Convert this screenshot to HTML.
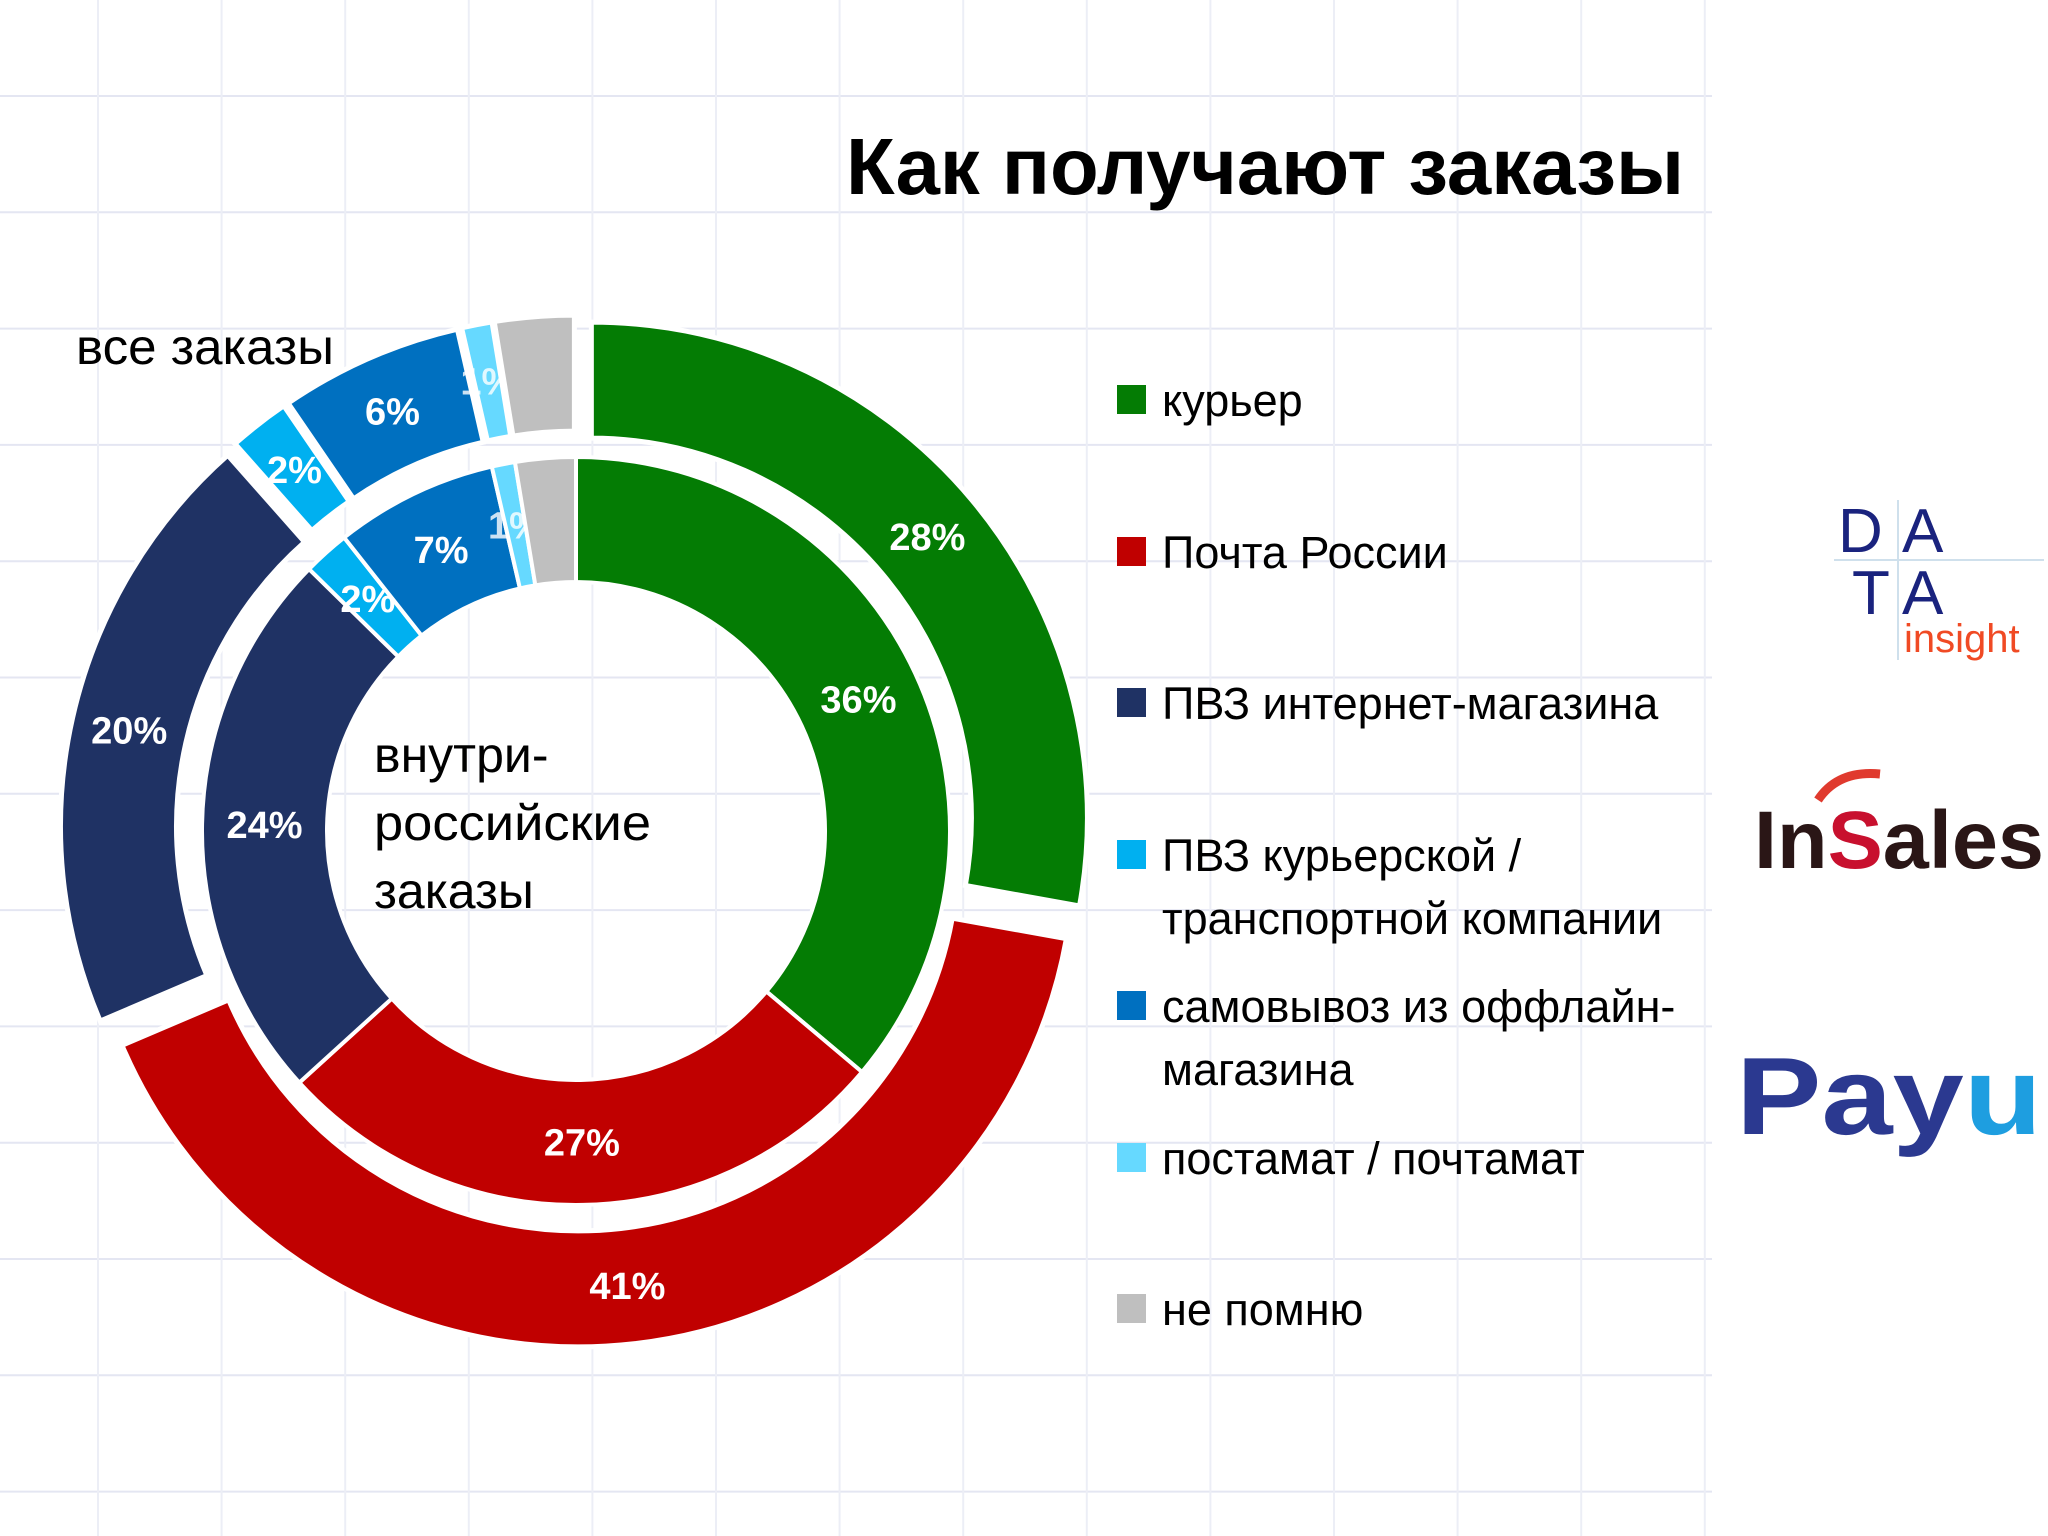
<!DOCTYPE html>
<html><head><meta charset="utf-8"><style>
html,body{margin:0;padding:0;background:#fff;}
svg{display:block;font-family:"Liberation Sans","DejaVu Sans",sans-serif;}
</style></head><body>
<svg id="chart" width="2048" height="1536" viewBox="0 0 2048 1536">
<g id="grid"></g>
<text x="1684" y="194" text-anchor="end" font-size="80" font-weight="bold" textLength="838" lengthAdjust="spacingAndGlyphs">Как получают заказы</text>
<g id="donut"></g>
<text x="76" y="364" font-size="50" textLength="258" lengthAdjust="spacingAndGlyphs">все заказы</text>
<g font-size="50">
<text x="374" y="772">внутри-</text><text x="374" y="840" textLength="277" lengthAdjust="spacingAndGlyphs">российские</text><text x="374" y="908">заказы</text>
</g>
<g id="legend"></g>
<g>
<line x1="1834" y1="560" x2="2044" y2="560" stroke="#cfe0ec" stroke-width="2"/>
<line x1="1898" y1="500" x2="1898" y2="660" stroke="#cfe0ec" stroke-width="2"/>
<text x="1838" y="552" font-size="62" fill="#1a237e">D</text>
<text x="1902" y="552" font-size="62" fill="#1a237e">A</text>
<text x="1852" y="614" font-size="62" fill="#1a237e">T</text>
<text x="1902" y="614" font-size="62" fill="#1a237e">A</text>
<text x="1904" y="652" font-size="40" fill="#f04a24">insight</text>
</g>
<g>
<text x="1754" y="868" font-size="82" font-weight="bold" fill="#2a1616" textLength="290" lengthAdjust="spacingAndGlyphs">In<tspan fill="#c8102e">S</tspan>ales</text>
<path d="M1818 800 q20 -30 62 -26" stroke="#e03a2e" stroke-width="9" fill="none"/>
</g>
<g>
<text x="1736" y="1134" font-size="110" font-weight="bold" fill="#2b3990" textLength="306" lengthAdjust="spacingAndGlyphs">Pay<tspan fill="#1e9ee0">u</tspan></text>
</g>
</svg>
<script>
const categories = ["курьер","Почта России","ПВЗ интернет-магазина","ПВЗ курьерской / транспортной компании","самовывоз из оффлайн-магазина","постамат / почтамат","не помню"];
const outerValues = [28,41,20,2,6,1,2.6];
const innerValues = [36,27,24,2,7,1,2.6];
const outerLabels = ["28%","41%","20%","2%","6%","1%",""];
const innerLabels = ["36%","27%","24%","2%","7%","1%",""];
const colors = ["#047c04","#c00000","#1f3264","#00b0f0","#0070c0","#66d9ff","#bfbfbf"];
const legendLines = [["курьер"],["Почта России"],["ПВЗ интернет-магазина"],["ПВЗ курьерской /","транспортной компании"],["самовывоз из оффлайн-","магазина"],["постамат / почтамат"],["не помню"]];

const NS="http://www.w3.org/2000/svg";
const cx=576, cy=831;
function mk(tag,attrs,parent){const e=document.createElementNS(NS,tag);for(const k in attrs)e.setAttribute(k,attrs[k]);parent.appendChild(e);return e;}
function pt(a,r,ox,oy){return [ox+r*Math.sin(a), oy-r*Math.cos(a)];}
function arc(a0,a1,r0,r1,ox,oy){
  const p0=pt(a0,r1,ox,oy),p1=pt(a1,r1,ox,oy),p2=pt(a1,r0,ox,oy),p3=pt(a0,r0,ox,oy);
  const lg=(a1-a0)>Math.PI?1:0;
  return `M${p0} A${r1} ${r1} 0 ${lg} 1 ${p1} L${p2} A${r0} ${r0} 0 ${lg} 0 ${p3} Z`;
}
const grid=document.getElementById('grid');
for(let y=96;y<1536;y+=116.3){const l=mk('line',{x1:0,y1:y,x2:1712,y2:y,stroke:"#e4e6f2","stroke-width":2},grid);}
for(let x=98;x<1720;x+=123.6){const l=mk('line',{x1:x,y1:0,x2:x,y2:1536,stroke:"#eceef6","stroke-width":2},grid);}
const donut=document.getElementById('donut');
function ring(values,labels,r0,r1,explode,name){
  const tot=values.reduce((a,b)=>a+b,0);let acc=0;
  values.forEach((v,i)=>{
    const a0=acc/tot*2*Math.PI; acc+=v; const a1=acc/tot*2*Math.PI; const am=(a0+a1)/2;
    const ox=cx+explode*Math.sin(am), oy=cy-explode*Math.cos(am);
    const p=mk('path',{d:arc(a0,a1,r0,r1,ox,oy),fill:colors[i],stroke:"#fff","stroke-width":explode?5:4},donut);
    
    
    if(labels[i]){
      const [tx,ty]=pt(am,(r0+r1)/2,ox,oy);
      const t=mk('text',{x:tx,y:ty+13,"text-anchor":"middle","font-size":38,"font-weight":"bold",fill:"#fff","fill-opacity":v<=1?0.8:1},donut);
      t.textContent=labels[i];
      
      
    }
  });
}
ring(outerValues,outerLabels,380,496,20,'outer');
ring(innerValues,innerLabels,249,374,0,'inner');
const legend=document.getElementById('legend');
const rowY=[416,568,719,871,1022,1174,1325];
categories.forEach((c,i)=>{
  const g=mk('g',{},legend);
  
  
  mk('rect',{x:1117,y:rowY[i]-31,width:29,height:29,fill:colors[i]},g);
  legendLines[i].forEach((ln,j)=>{const t=mk('text',{x:1162,y:rowY[i]+j*63,"font-size":45},g);t.textContent=ln;});
});
</script>
</body></html>
